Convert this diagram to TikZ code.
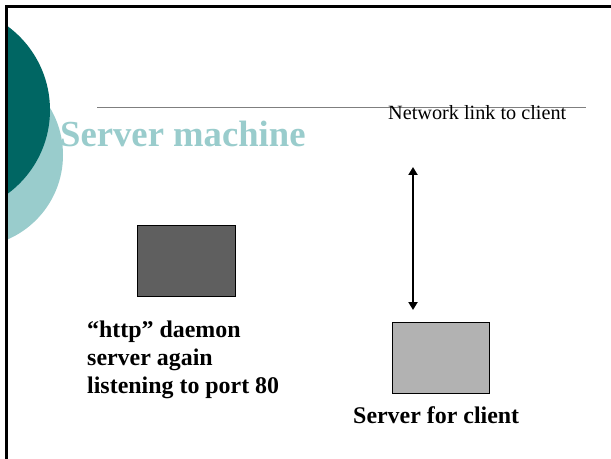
\documentclass[tikz,border=0pt]{standalone}
\usepackage{fontspec}
\setmainfont{Liberation Serif}
\usetikzlibrary{arrows.meta}
\definecolor{darkteal}{HTML}{006663}
\definecolor{lightteal}{HTML}{99CCCC}
\definecolor{darkbox}{HTML}{5F5F5F}
\definecolor{lightbox}{HTML}{B2B2B2}
\definecolor{rulegray}{HTML}{7F7F7F}
\tikzset{
  boxnode/.style={draw=black, line width=0.8bp, inner sep=0pt, minimum width=97bp, minimum height=71bp, anchor=north west},
  labeltext/.style={anchor=base west, inner sep=0pt, font=\fontsize{24}{28}\selectfont\bfseries},
  linkarrow/.style={line width=2.6bp, {Triangle[width=9bp,length=8bp]}-{Triangle[width=9bp,length=8bp]}}
}
\begin{document}
\begin{tikzpicture}[x=1bp,y=-1bp]
\useasboundingbox (0,0) rectangle (611,459);
\fill[white] (0,0) rectangle (611,459);
% decorative circles
\begin{scope}
  \clip (6.5,0) rectangle (611,459);
  \fill[lightteal] (-29,155) circle[radius=92bp];
  \fill[darkteal] (-54,110) circle[radius=104bp];
\end{scope}
% frame
\draw[line width=3bp] (6.5,459) -- (6.5,6.5) -- (611,6.5);
% title rule
\draw[rulegray, line width=1bp] (97,108) -- (586,108);
% title
\node[anchor=base west, inner sep=0pt, text=lightteal, font=\fontsize{36.8}{40}\selectfont\bfseries] (title) at (60,147) {Server machine};
\node[anchor=base west, inner sep=0pt, font=\fontsize{20.3}{24}\selectfont] (net) at (388,120) {Network link to client};
% boxes
\node[boxnode, fill=darkbox, minimum width=98bp] (daemon) at (137,225) {};
\node[boxnode, fill=lightbox] (client) at (392,322) {};
% arrow
\coordinate (atop) at (413,167);
\coordinate (abot) at (413,310);
\draw[linkarrow] (atop) -- (abot);
% labels
\node[labeltext] (l1) at (87,337) {“http” daemon};
\node[labeltext] (l2) at (87,365) {server again};
\node[labeltext] (l3) at (87,393) {listening to port 80};
\node[labeltext] (sc) at (353,423) {Server for client};
\end{tikzpicture}
\end{document}
